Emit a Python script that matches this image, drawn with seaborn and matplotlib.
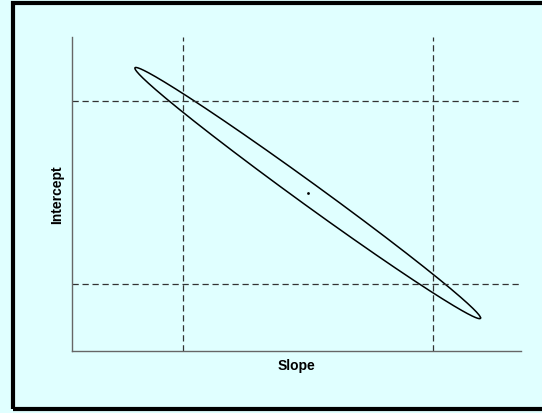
import numpy as np
import pandas as pd
import matplotlib
matplotlib.use("Agg")
import matplotlib.pyplot as plt
import seaborn as sns
from matplotlib.patches import Rectangle

# Estimates (arbitrary units, axes have no ticks)
estimate_names = ["Slope", "Intercept"]
estimate_values = [5.25, 5.03]
# Marginal confidence intervals
slope_ci = [2.48, 8.04]
intercept_ci = [2.13, 7.96]
# Joint confidence ellipse: half-extents along each axis and correlation
ellipse_half_extent = [3.85, 4.00]
ellipse_corr = -0.9942
x_limits = [0.0, 10.0]
y_limits = [0.0, 10.0]

sns.set_theme(style="white")
plt.rcParams['font.family'] = ['Liberation Sans', 'DejaVu Sans']

bg = "#e0ffff"
fig = plt.figure(figsize=(5.42, 4.14), dpi=100, facecolor=bg)
ax = fig.add_axes([72/542, (414-352)/414, (521-72)/542, (352-38)/414])
ax.set_facecolor(bg)

# ellipse outline
t = np.linspace(0, 2*np.pi, 400)
cx, cy = estimate_values
ax_, ay_ = ellipse_half_extent
r = ellipse_corr
ex = cx + ax_*np.cos(t)
ey = cy + ay_*(r*np.cos(t) - np.sqrt(1 - r**2)*np.sin(t))
df = pd.DataFrame({"x": ex, "y": ey})
sns.lineplot(data=df, x="x", y="y", sort=False, estimator=None, color="black", lw=1.1, ax=ax)

# center point
sns.scatterplot(x=[cx], y=[cy], color="black", s=4, linewidth=0, ax=ax)

# confidence interval lines
for v in slope_ci:
    ax.axvline(v, color="#333333", lw=0.9, ls=(0, (5, 3)))
for v in intercept_ci:
    ax.axhline(v, color="#333333", lw=0.9, ls=(0, (5, 3)))

ax.set_xlim(x_limits)
ax.set_ylim(y_limits)
ax.set_xticks([])
ax.set_yticks([])
for s in ["top", "right"]:
    ax.spines[s].set_visible(False)
for s in ["left", "bottom"]:
    ax.spines[s].set_color("#666666")
    ax.spines[s].set_linewidth(1.0)

ax.set_xlabel(estimate_names[0], fontsize=10, fontweight="bold", color="black", labelpad=5)
ax.set_ylabel(estimate_names[1], fontsize=10, fontweight="bold", color="black", labelpad=6)

# figure border
fig.patches.append(Rectangle((13/542, 4/414), 1.0, (408-4)/414 + 2/414,
                             transform=fig.transFigure, fill=False,
                             edgecolor="black", linewidth=3.0, zorder=10))

fig.savefig("out.png", dpi=100, facecolor=bg)
